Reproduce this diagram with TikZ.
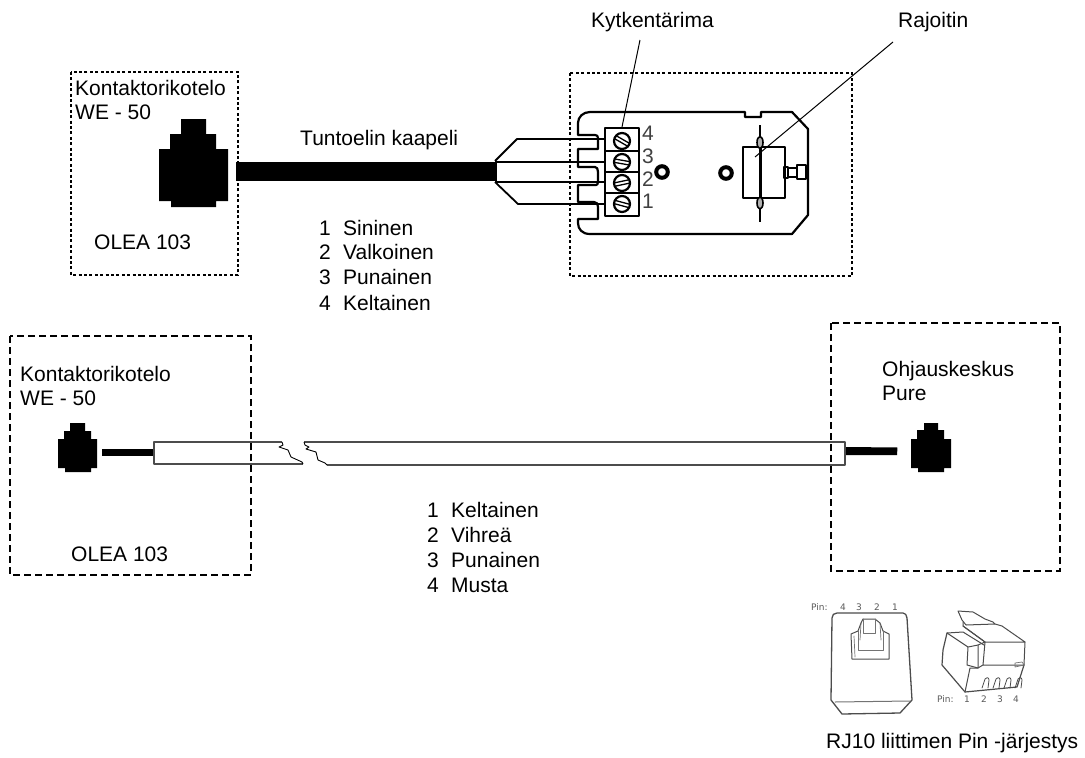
\documentclass[tikz,border=0pt]{standalone}
\usepackage{fontspec}
\setmainfont{Liberation Sans}
\newfontfamily\pinfont{DejaVu Sans}
\tikzset{
  lbl/.style={anchor=base west,inner sep=0pt,font=\fontsize{21}{25}\selectfont,text=black},
  num/.style={anchor=base,inner sep=0pt,font=\fontsize{21}{25}\selectfont,text=black!75},
  pinlbl/.style={anchor=base,inner sep=0pt,font=\pinfont\fontsize{9}{10}\selectfont,text=black!65},
  dotbox/.style={draw=black,line width=1.5pt,dash pattern=on 3pt off 2.4pt},
  dashbox/.style={draw=black,line width=1.5pt,dash pattern=on 7pt off 4pt},
  platel/.style={draw=black,line width=2.2pt,line join=round},
  wire/.style={draw=black,line width=1.8pt,line join=round},
  leader/.style={draw=black,line width=1pt},
  jack/.style={fill=black,draw=none},
  sheath/.style={draw=black!70,line width=1.2pt,line join=round},
  sketch/.style={draw=black!70,line width=1pt,line join=round,line cap=round},
  sketchthin/.style={draw=black!55,line width=.7pt,line join=round,line cap=round},
}
\newcommand{\screw}[3]{%
  \draw[black,line width=2.2pt] (#1,#2) circle (8);
  \begin{scope}[shift={(#1,#2)},rotate=#3]
    \draw[black,line width=1.3pt] (-7.5,-1.7) -- (7.5,-1.7);
    \draw[black,line width=1.3pt] (-7.5,1.7) -- (7.5,1.7);
  \end{scope}}
\begin{document}
\begin{tikzpicture}[x=1pt,y=-1pt]
\useasboundingbox (0,0) rectangle (1085,758);
% ---- top jack and cable
\fill[jack] (181,119) -| (206,134) -| (216,149) -| (228,201) -| (216,207) -| (171,201) -| (159,149) -| (170,134) -| (181,119) -- cycle;
\fill[black] (236,162) rectangle (497,181);
\coordinate (split) at (495,161);
\coordinate (splitb) at (495,182);
% wires
\draw[wire] (split) -- (517,139) -- (605,139);
\draw[wire] (split) ++(0,1) -- (605,162);
\draw[wire] (splitb) -- (605,182);
\draw[wire] (splitb) -- (518,204) -- (605,204);
% plate
\draw[platel] (590,112) -- (745,112) -- (745,117) -- (761,117) -- (761,112) -- (792,112) -- (808,129) -- (808,215) -- (792,234) -- (590,234)
  .. controls (582,234) and (578,229) .. (578,223) -- (578,219) -- (598,219) -- (598,207) .. controls (598,204) and (597,202) .. (594,202) -- (578,202) -- (578,185) -- (596,185) .. controls (597,185) and (598,184) .. (598,182) -- (598,172) .. controls (598,169) and (597,167) .. (595,167) -- (578,167) -- (578,149) -- (598,149) -- (598,138) .. controls (598,136) and (597,135) .. (595,135) -- (578,135) -- (578,123)
  .. controls (578,117) and (583,112) .. (590,112) -- cycle;
% terminal block
\draw[platel,fill=white] (605,128) rectangle (639,216);
\draw[platel] (605,151) -- (639,151) (605,172) -- (639,172) (605,193) -- (639,193);
\screw{622}{141}{-30}
\screw{622}{162}{-10}
\screw{622}{183}{12}
\screw{622}{204}{-15}
\node[num] (n4) at (648,140) {4};
\node[num] (n3) at (648,163) {3};
\node[num] (n2) at (648,186) {2};
\node[num] (n1) at (648,208) {1};
% holes
\draw[black,line width=4pt] (662,172) circle (5.8);
\draw[black,line width=4pt] (726,173) circle (5.8);
% limiter
\draw[platel] (743,147) rectangle (785,198);
\draw[black,line width=2.6pt] (785,153) -- (785,192);
\draw[platel] (760,125) -- (760,222);
\draw[platel,line width=1.6pt,fill=black!30] (760,142.5) ellipse (3 and 6);
\draw[platel,line width=1.6pt,fill=black!30] (760,203) ellipse (3 and 6);
\draw[black,line width=2.6pt] (761,147) -- (761,198);
\draw[platel,line width=1.8pt] (784,167) rectangle (788,178);
\draw[platel,line width=1.8pt] (788,168) rectangle (797,177);
\draw[platel,line width=1.8pt] (797,165) rectangle (806,179);
% labels & leaders
\node[lbl] (kyt) at (591,27) {Kytkentärima};
\node[lbl] (raj) at (898,27) {Rajoitin};
\coordinate (kytend) at (622,127);
\coordinate (kyttop) at (640,40);
\coordinate (rajend) at (755,157);
\coordinate (rajtop) at (893,42);
\draw[leader] (kyttop) -- (kytend);
\draw[leader] (rajtop) -- (rajend);
% dashed boxes
\draw[dotbox] (71,72) rectangle (238,275);
\draw[dotbox] (570,73) rectangle (852,276);
\draw[dashbox] (10,336) rectangle (251,575);
\draw[dashbox] (831,323) rectangle (1060,571);
% top texts
\node[lbl] (k1) at (75,95) {Kontaktorikotelo};
\node[lbl] (w1) at (75,119) {WE - 50};
\node[lbl] (ole1) at (94,249) {OLEA 103};
\node[lbl] (tunto) at (300,145) {Tuntoelin kaapeli};
\foreach \y/\n/\c in {235/1/Sininen,259/2/Valkoinen,284/3/Punainen,310/4/Keltainen}{
  \node[lbl] (c\n) at (319,\y) {\n};
  \node[lbl] (ct\n) at (343,\y) {\c};
}
% lower left jack, cable
\fill[jack] (70,423) -| (85,431) -| (91,439) -| (97,468) -| (91,472) -| (65,468) -| (58,439) -| (64,431) -| (70,423) -- cycle;
\fill[black] (102,449) rectangle (154,456);
\draw[sheath] (282,442) -- (154,442) -- (154,464) -- (303,464);
\draw[black,line width=.9pt,line join=round] (282,442) -- (283,445) -- (279,447) -- (288,450) -- (291,457) -- (302,462) -- (303,464);
\draw[sheath] (304,442) -- (845,442) -- (845,465) -- (327,465);
\draw[black,line width=.9pt,line join=round] (304,442) -- (305,445) -- (309,447) -- (306,449) -- (316,452) -- (318,460) -- (325,463) -- (327,465);
\fill[black] (846,447) -- (897.5,447.5) -- (897,455) -- (846,455) -- cycle;
\fill[jack] (924,423) -| (938,430) -| (944,439) -| (951,468) -| (944,472) -| (918,468) -| (911,439) -| (917,430) -| (924,423) -- cycle;
% lower texts
\node[lbl] (k2) at (20,381) {Kontaktorikotelo};
\node[lbl] (w2) at (20,405) {WE - 50};
\node[lbl] (ole2) at (71,561) {OLEA 103};
\node[lbl] (ohj) at (882,376) {Ohjauskeskus};
\node[lbl] (pur) at (882,400) {Pure};
\foreach \y/\n/\c in {517/1/Keltainen,542/2/Vihreä,567/3/Punainen,592/4/Musta}{
  \node[lbl] (d\n) at (427,\y) {\n};
  \node[lbl] (dt\n) at (451,\y) {\c};
}
\node[lbl] (rj) at (826,748) {RJ10 liittimen Pin -järjestys};
% RJ10 socket
\node[pinlbl,anchor=base west] (pinA) at (811,610) {Pin:};
\foreach \x/\n in {843/4,859/3,877/2,895/1}{\node[pinlbl] (a\n) at (\x,610) {\n};}
\draw[sketch,line width=1.3pt] (831,700) -- (832,618) .. controls (832,615) and (834,613) .. (837,613) -- (903,613) .. controls (905,613) and (907,615) .. (907,618) -- (912,700) -- (900,713) -- (842,714) -- cycle;
\draw[sketchthin,line width=1pt] (835,702) -- (910,701);
\draw[sketch] (852,659) -- (851,634) -- (858,631) -- (861,623) -- (863,619) -- (875,619) -- (880,623) -- (883,631) -- (889,634) -- (889,659) -- cycle;
\draw[sketchthin] (863,619) -- (863,633) -- (875,633) -- (875,619);
\draw[sketchthin] (858,631) -- (858,650) -- (883,650) -- (883,631);
\draw[sketchthin] (861,623) -- (860,640) (880,623) -- (881,640) (854,636) -- (855,657);
% RJ10 plug
\node[pinlbl,anchor=base west] (pinB) at (937,702) {Pin:};
\foreach \x/\n in {967/1,984/2,1000/3,1016/4}{\node[pinlbl] (b\n) at (\x,702) {\n};}
\draw[sketch] (958,611) -- (973,612) -- (985,619) -- (993,622) -- (995,624) -- (966,625) -- (962,620) -- cycle;
\draw[sketch] (963,622) -- (963,626) -- (985,642) -- (1025,642) -- (1002,626) -- (995,624);
\draw[sketch] (963,626) -- (985,642) -- (983,665) -- (1024,665) -- (1025,642);
\draw[sketch] (947,633) -- (963,632) -- (984,645);
\draw[sketch,line width=1.2pt] (947,633) -- (943,650) -- (942,665) -- (965,692) -- (1017,687) -- (1024,665);
\draw[sketch] (947,633) -- (968,647) -- (978,645) -- (985,642);
\draw[sketch] (968,647) -- (967,665) -- (978,668) -- (978,645);
\draw[sketch] (965,692) -- (970,668) -- (978,668) -- (983,665);
\draw[sketchthin] (1015,667) -- (1024,665) -- (1022,662) -- (1015,663) -- cycle;
\foreach \x in {982,993,1004,1015}{
  \draw[sketch,line width=.8pt] (\x,688) -- (\x+3,679) .. controls (\x+3.5,677) and (\x+7,677) .. (\x+7,680) -- (\x+6,688);
}
\end{tikzpicture}
\end{document}
